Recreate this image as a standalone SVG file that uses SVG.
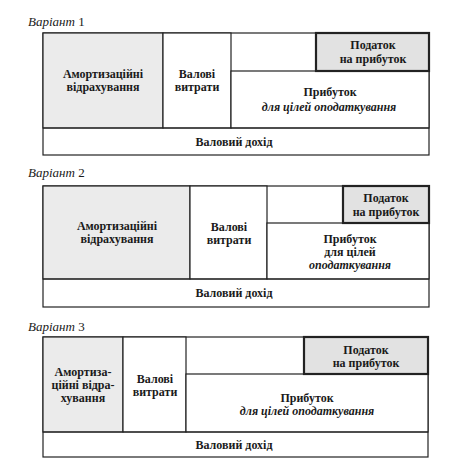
<svg xmlns="http://www.w3.org/2000/svg" width="453" height="471" viewBox="0 0 453 471" font-family="'Liberation Serif', 'DejaVu Serif', serif">
<style>
text{font-family:'Liberation Serif','DejaVu Serif',serif;font-size:12px;fill:#1a1a1a;text-anchor:middle}
.b{font-weight:bold}
.i{font-style:italic}
.lab{text-anchor:start;font-style:italic;font-size:13px}
.box{fill:#fff;stroke:#222;stroke-width:1.2}
.sh{fill:#ebebeb;stroke:#222;stroke-width:1.2}
.tax{fill:#e2e2e2;stroke:#222;stroke-width:2.2}
.ln{stroke:#222;stroke-width:1.2}
</style>
<rect width="453" height="471" fill="#fff"/>

<g id="v1">
<text class="lab" x="28" y="26">Варіант <tspan font-style="normal">1</tspan></text>
<rect class="box" x="43" y="33" width="386" height="122"/>
<rect class="sh" x="43" y="33" width="120" height="95"/>
<rect class="box" x="163" y="33" width="68" height="95"/>
<rect class="box" x="231" y="71" width="198" height="57"/>
<rect class="tax" x="316" y="33" width="113" height="38"/>
<line class="ln" x1="43" y1="128" x2="429" y2="128"/>
<text class="b" x="103" y="78">Амортизаційні</text>
<text class="b" x="103" y="91">відрахування</text>
<text class="b" x="197" y="78">Валові</text>
<text class="b" x="197" y="91">витрати</text>
<text class="b" x="373" y="49">Податок</text>
<text class="b" x="373" y="63">на прибуток</text>
<text class="b" x="330" y="96">Прибуток</text>
<text class="b i" x="329" y="111">для цілей оподаткування</text>
<text class="b" x="234" y="146">Валовий дохід</text>
</g>

<g id="v2">
<text class="lab" x="28" y="177">Варіант <tspan font-style="normal">2</tspan></text>
<rect class="box" x="43" y="186" width="386" height="121"/>
<rect class="sh" x="43" y="186" width="147" height="93"/>
<rect class="box" x="190" y="186" width="77" height="93"/>
<rect class="box" x="267" y="223" width="162" height="56"/>
<rect class="tax" x="343" y="186" width="86" height="37"/>
<line class="ln" x1="43" y1="279" x2="429" y2="279"/>
<text class="b" x="117" y="230">Амортизаційні</text>
<text class="b" x="117" y="243">відрахування</text>
<text class="b" x="229" y="231">Валові</text>
<text class="b" x="229" y="244">витрати</text>
<text class="b" x="386" y="202">Податок</text>
<text class="b" x="386" y="216">на прибуток</text>
<text class="b" x="350" y="243">Прибуток</text>
<text class="b" x="350" y="256">для цілей</text>
<text class="b i" x="350" y="269">оподаткування</text>
<text class="b" x="234" y="297">Валовий дохід</text>
</g>

<g id="v3">
<text class="lab" x="28" y="331">Варіант <tspan font-style="normal">3</tspan></text>
<rect class="box" x="43" y="337" width="385" height="120"/>
<rect class="sh" x="43" y="337" width="80" height="95"/>
<rect class="box" x="123" y="337" width="63" height="95"/>
<rect class="box" x="186" y="374" width="242" height="58"/>
<rect class="tax" x="304" y="337" width="124" height="37"/>
<line class="ln" x1="43" y1="432" x2="428" y2="432"/>
<text class="b" x="83" y="376">Амортиза-</text>
<text class="b" x="83" y="389">ційні відра-</text>
<text class="b" x="83" y="402">хування</text>
<text class="b" x="155" y="383">Валові</text>
<text class="b" x="155" y="396">витрати</text>
<text class="b" x="366" y="354">Податок</text>
<text class="b" x="366" y="367">на прибуток</text>
<text class="b" x="307" y="402">Прибуток</text>
<text class="b i" x="307" y="415">для цілей оподаткування</text>
<text class="b" x="234" y="449">Валовий дохід</text>
</g>
</svg>
